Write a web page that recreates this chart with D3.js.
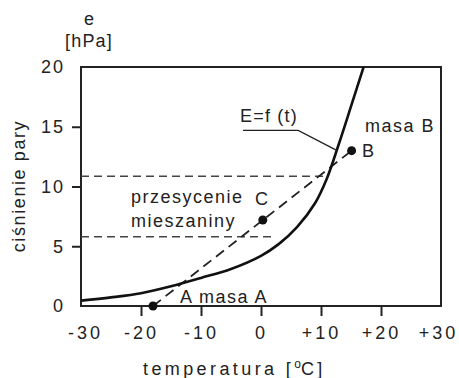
<!DOCTYPE html>
<html lang="pl">
<head>
    <meta charset="UTF-8">
    <title>E=f(t)</title>
    <script src="https://d3js.org/d3.v7.min.js"></script>
    <style>
        body { margin: 0; background: #fff; }
        svg text {
            font-family: "Liberation Sans", Arial, sans-serif;
            fill: #222;
        }
        .tick line { stroke: #222; stroke-width: 2; }
    </style>
</head>
<body>
<svg height="378" width="459"></svg>

<script>
    // curve E=f(t)
    const curveT = [-30, -25, -20, -15, -10, -5, 0, 3, 6, 9, 11, 13, 15, 17.1];
    const curveE = [0.45, 0.72, 1.07, 1.65, 2.35, 3.1, 4.2, 5.2, 6.6, 8.6, 10.7, 13.6, 16.7, 20];

    // air masses
    const points = [
        {name: "A", t: -18, e: 0},
        {name: "C", t: 0.3, e: 7.2},
        {name: "B", t: 15.1, e: 13}
    ];

    // dashed levels: [e, t where it stops]
    const levels = [[10.85, 11.2], [5.8, 2.2]];

    // leader line for the curve label
    const leader = [[-3, 14.7], [6.2, 14.7], [12.7, 13.0]];

    const xTicks = [-30, -20, -10, 0, 10, 20, 30];
    const yTicks = [0, 5, 10, 15, 20];

    const svg = d3.select("svg");
    const x = d3.scaleLinear().domain([-30, 30]).range([81, 441]);
    const y = d3.scaleLinear().domain([0, 20]).range([306, 67]);

    svg.append("clipPath").attr("id", "plot")
        .append("rect")
        .attr("x", x(-30)).attr("y", y(20))
        .attr("width", x(30) - x(-30)).attr("height", y(0) - y(20));

    // x axis
    const xAxis = svg.append("g")
        .attr("transform", `translate(0,${y(0)})`)
        .call(d3.axisBottom(x).tickValues(xTicks).tickSize(10).tickPadding(10)
            .tickFormat(d => d > 0 ? "+" + d : d));
    xAxis.select(".domain").remove();
    xAxis.selectAll(".tick line").filter(d => d === -30 || d === 30).remove();
    xAxis.selectAll(".tick text")
        .style("font-size", "18px").style("letter-spacing", "3px")
        .attr("dx", d => d === -30 ? 4 : d === 30 ? -3 : 0);

    // y axis
    const yAxis = svg.append("g")
        .attr("transform", `translate(${x(-30)},0)`)
        .call(d3.axisLeft(y).tickValues(yTicks).tickSize(9).tickPadding(8));
    yAxis.select(".domain").remove();
    yAxis.selectAll(".tick line").filter(d => d === 0 || d === 20).remove();
    yAxis.selectAll(".tick text")
        .style("font-size", "18px").style("letter-spacing", "2px")
        .attr("x", -16);

    // frame
    svg.append("rect")
        .attr("x", x(-30)).attr("y", y(20))
        .attr("width", x(30) - x(-30)).attr("height", y(0) - y(20))
        .attr("fill", "none").attr("stroke", "#222").attr("stroke-width", 2);

    // dashed levels
    svg.selectAll(".level")
        .data(levels)
        .enter()
        .append("line")
        .attr("x1", x(-30)).attr("x2", d => x(d[1]))
        .attr("y1", d => y(d[0])).attr("y2", d => y(d[0]))
        .attr("stroke", "#444").attr("stroke-width", 1.5)
        .attr("stroke-dasharray", "8,5");

    // mixing line A-B
    const A = points[0], B = points[2];
    svg.append("line")
        .attr("x1", x(A.t)).attr("y1", y(A.e))
        .attr("x2", x(B.t)).attr("y2", y(B.e))
        .attr("stroke", "#222").attr("stroke-width", 1.8)
        .attr("stroke-dasharray", "10,6");

    // saturation curve
    const line = d3.line()
        .x(d => x(d[0]))
        .y(d => y(d[1]))
        .curve(d3.curveCatmullRom);
    svg.append("path")
        .datum(d3.zip(curveT, curveE))
        .attr("d", line)
        .attr("clip-path", "url(#plot)")
        .attr("fill", "none").attr("stroke", "#111").attr("stroke-width", 2.6);

    // leader
    svg.append("path")
        .datum(leader)
        .attr("d", d3.line().x(d => x(d[0])).y(d => y(d[1])))
        .attr("fill", "none").attr("stroke", "#222").attr("stroke-width", 1.3);

    // points
    svg.selectAll(".pt")
        .data(points)
        .enter()
        .append("circle")
        .attr("cx", d => x(d.t)).attr("cy", d => y(d.e))
        .attr("r", 4.5).attr("fill", "#111");

    // labels
    const label = (tx, ty, s, ls) => svg.append("text")
        .attr("x", tx).attr("y", ty)
        .style("font-size", "18px").style("letter-spacing", ls + "px")
        .text(s);
    label(240, 122, "E=f (t)", 1.2);
    label(365, 132, "masa B", 1.5);
    label(362, 157, "B", 0);
    label(255, 205, "C", 0);
    label(131, 203, "przesycenie", 1.5);
    label(131, 227, "mieszaniny", 1.5);
    label(180, 303, "A masa A", 1.5);

    label(89, 25, "e", 0).attr("text-anchor", "middle");
    label(89, 47, "[hPa]", 1.2).attr("text-anchor", "middle");

    label(0, 0, "ciśnienie pary", 1.6)
        .attr("transform", "translate(25,186) rotate(-90)")
        .attr("text-anchor", "middle");

    const xt = label(143, 375, "", 3.4);
    xt.append("tspan").text("temperatura [");
    xt.append("tspan").attr("dy", -7).style("font-size", "12px").style("letter-spacing", "0px").text("o");
    xt.append("tspan").attr("dy", 7).text("C]");
</script>

</body>
</html>
